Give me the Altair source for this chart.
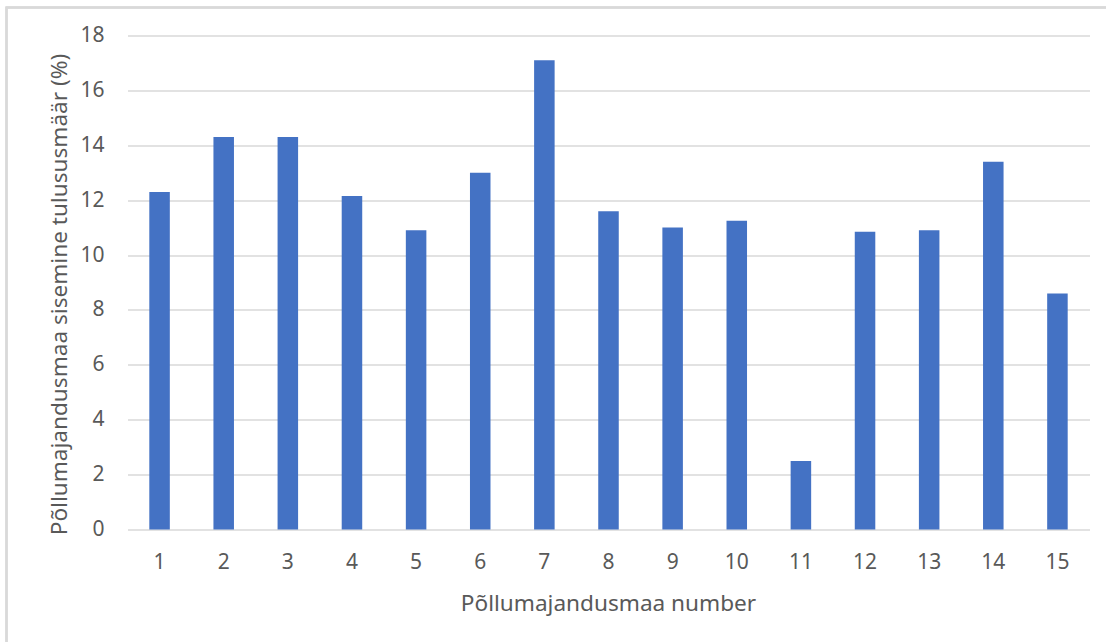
import altair as alt
import pandas as pd

# Farm numbers and their internal rate of return (%)
farm_numbers = [str(i) for i in range(1, 16)]
irr_percent = [12.3, 14.3, 14.3, 12.15, 10.9, 13.0, 17.1, 11.6, 11.0, 11.25,
               2.5, 10.85, 10.9, 13.4, 8.6]
y_ticks = [0, 2, 4, 6, 8, 10, 12, 14, 16, 18]

df = pd.DataFrame({"farm": farm_numbers, "irr": irr_percent})

FONT = "Noto Sans"
TEXT = "#595959"
GRID = "#d9d9d9"
BAR = "#4472c4"

W, H = 962, 494

bars = alt.Chart(df).mark_bar(color=BAR).encode(
    x=alt.X(
        "farm:N",
        sort=farm_numbers,
        scale=alt.Scale(paddingInner=0.68, paddingOuter=0.34),
        axis=alt.Axis(
            title="Põllumajandusmaa number",
            labelAngle=0,
            labelFont=FONT,
            labelFontSize=21,
            labelColor=TEXT,
            labelBaseline="alphabetic",
            labelPadding=39,
            ticks=False,
            tickSize=0,
            domain=False,
            titleFont=FONT,
            titleFontSize=22.6,
            titleFontWeight="normal",
            titleColor=TEXT,
            titleBaseline="alphabetic",
            titleX=480.5,
            titleY=80.5,
        ),
    ),
    y=alt.Y(
        "irr:Q",
        scale=alt.Scale(domain=[0, 18], nice=False),
        axis=alt.Axis(
            title="Põllumajandusmaa sisemine tulususmäär (%)",
            values=y_ticks,
            grid=True,
            gridColor=GRID,
            gridWidth=1.5,
            labelFont=FONT,
            labelFontSize=21,
            labelColor=TEXT,
            labelPadding=23.5,
            ticks=False,
            tickSize=0,
            domain=False,
            titleFont=FONT,
            titleFontSize=22.6,
            titleFontWeight="normal",
            titleColor=TEXT,
            titleAngle=270,
            titleAlign="center",
            titleBaseline="alphabetic",
            titleX=-61.5,
            titleY=258.5,
        ),
    ),
)

# Light frame around the whole chart area
frame = alt.Chart(df).mark_rect(
    fill=None, stroke=GRID, strokeWidth=1.5, clip=False
).encode(
    x=alt.value(-121),
    x2=alt.value(W + 60),
    y=alt.value(-28),
    y2=alt.value(H + 160),
)

chart = alt.layer(frame, bars).properties(
    width=W,
    height=H,
    padding={"left": 127.5, "top": 35.5, "right": 16.5, "bottom": 112.5},
    autosize=alt.AutoSizeParams(type="none"),
    background="white",
).configure_view(stroke=None)

chart.save("out.html", embed_options={"renderer": "svg", "actions": False})
